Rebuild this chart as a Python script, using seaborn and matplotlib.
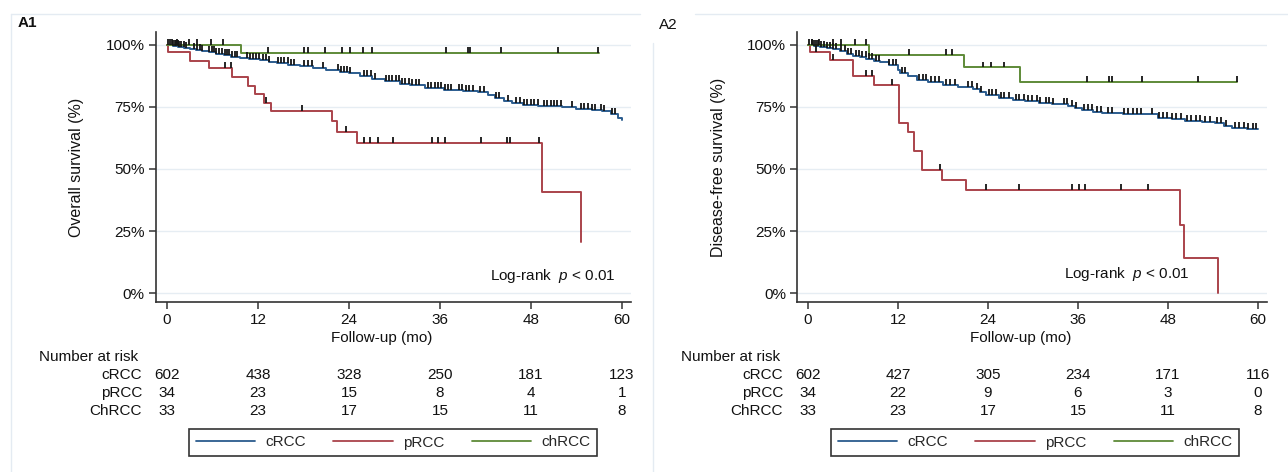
import matplotlib
matplotlib.use("Agg")
import matplotlib.pyplot as plt
import numpy as np
import pandas as pd
import seaborn as sns
from matplotlib.lines import Line2D

# %%
# step points: (months, survival %)
os_crcc_t = [0, 0.8, 1.5, 2.3, 3.0, 3.8, 4.6, 5.5, 6.5, 7.5, 8.5, 9.6, 10.8, 12.3, 13.4, 14.5,
             16.0, 17.5, 19.3, 21.0, 22.8, 24.0, 25.5, 27.0, 28.8, 30.7, 32.0, 34.0, 36.5, 39.0,
             41.0, 42.3, 43.3, 44.5, 45.5, 47.0, 49.0, 52.1, 54.0, 56.0, 57.4, 58.5, 59.5, 60.0]
os_crcc_s = [100, 99.6, 99.0, 98.6, 98.3, 97.8, 97.4, 97.0, 96.4, 95.8, 95.3, 94.8, 94.4, 94.0,
             93.3, 92.6, 92.1, 91.6, 90.8, 90.0, 89.2, 88.6, 87.4, 86.4, 85.3, 84.4, 84.0, 82.6,
             81.9, 81.5, 81.0, 80.0, 78.7, 77.5, 76.5, 75.6, 75.2, 74.9, 74.2, 73.6, 73.3, 72.0,
             70.6, 69.8]
os_prcc_t = [0, 0.2, 3.1, 5.5, 8.6, 10.7, 11.6, 12.8, 13.7, 21.8, 22.4, 25.1, 49.5, 54.6]
os_prcc_s = [100, 97.2, 93.7, 90.6, 87.2, 83.6, 80.1, 76.7, 73.4, 69.4, 65.0, 60.6, 40.6, 20.5]
os_chrcc_t = [0, 9.8, 57.0]
os_chrcc_s = [100, 96.6, 96.6]

dfs_crcc_t = [0, 0.8, 1.6, 2.5, 3.4, 4.3, 5.2, 6.0, 7.0, 7.8, 8.8, 9.6, 10.8, 12.0, 12.3, 13.4,
              14.5, 16.0, 18.0, 20.0, 22.0, 23.0, 23.8, 25.5, 27.3, 29.0, 30.8, 32.5, 34.7, 35.6,
              36.5, 38.0, 39.2, 42.0, 45.3, 46.7, 48.5, 50.3, 52.5, 54.3, 55.5, 56.5, 58.5, 60.0]
dfs_crcc_s = [100, 99.5, 99.0, 98.7, 98.4, 97.6, 96.5, 95.7, 95.0, 94.4, 93.6, 93.0, 92.0, 89.9,
              88.5, 87.3, 85.9, 85.0, 83.9, 83.0, 82.3, 81.0, 79.8, 78.8, 77.8, 77.3, 76.6, 76.1,
              75.5, 74.6, 73.8, 73.1, 72.5, 72.3, 72.0, 70.7, 70.2, 69.4, 69.0, 68.4, 67.5, 66.7,
              66.3, 66.0]
dfs_prcc_t = [0, 0.3, 3.0, 6.0, 8.8, 12.1, 13.3, 14.2, 15.2, 17.9, 21.1, 49.6, 50.2, 54.7]
dfs_prcc_s = [100, 97.1, 94.1, 87.5, 83.9, 68.4, 65.0, 57.1, 49.5, 45.4, 41.4, 27.6, 14.0, 0.0]
dfs_chrcc_t = [0, 8.1, 20.8, 28.3, 57.2]
dfs_chrcc_s = [100, 96.0, 90.9, 85.2, 85.2]

# censoring times (months)
os_crcc_cens = [0.2, 0.4, 0.6, 0.8, 1.0, 1.2, 1.4, 1.6, 1.9, 2.2, 2.5, 3.5, 3.9, 4.3, 4.6, 5.6,
                5.9, 6.2, 6.5, 6.8, 7.3, 7.6, 7.9, 8.2, 8.6, 9.0, 9.3, 10.6, 11.0, 11.4, 11.8,
                12.2, 12.6, 13.0, 13.4, 14.7, 15.1, 15.5, 15.9, 16.3, 16.8, 18.1, 18.6, 19.1,
                20.6, 22.5, 22.9, 23.3, 23.7, 24.1, 26.0, 26.4, 26.9, 27.4, 28.9, 29.3, 29.7,
                30.2, 30.6, 31.0, 31.4, 31.9, 32.3, 32.8, 33.3, 34.4, 34.8, 35.3, 35.8, 36.2,
                36.7, 37.1, 37.5, 38.5, 38.9, 39.4, 39.9, 40.3, 41.3, 41.8, 43.4, 43.8, 45.0,
                46.0, 46.5, 47.1, 47.5, 48.0, 48.4, 48.9, 49.7, 50.1, 50.6, 51.0, 51.5, 52.0,
                53.4, 54.6, 55.0, 55.5, 56.0, 56.4, 57.2, 57.7, 58.7, 59.1]
os_prcc_cens = [7.6, 8.4, 13.1, 17.8, 23.6, 26.0, 26.8, 27.8, 29.8, 35.0, 35.8, 36.7, 41.4,
                44.9, 45.3, 49.1]
os_chrcc_cens = [1.3, 2.9, 3.9, 5.8, 7.4, 13.3, 18.1, 18.6, 20.8, 23.1, 24.1, 25.9, 27.0, 36.8,
                 39.7, 40.0, 44.1, 51.6, 56.8]

dfs_crcc_cens = [0.2, 0.5, 0.8, 1.1, 1.3, 1.7, 2.1, 2.5, 2.9, 3.4, 3.8, 4.4, 4.9, 5.4, 5.8, 6.4,
                 6.8, 7.2, 7.7, 8.1, 8.6, 9.1, 9.5, 10.8, 11.3, 11.8, 12.5, 13.0, 14.8, 15.3,
                 15.8, 16.4, 17.0, 17.5, 18.4, 19.0, 19.6, 21.3, 21.9, 22.5, 23.1, 24.1, 24.6,
                 25.1, 25.7, 26.2, 26.8, 27.7, 28.2, 28.8, 29.4, 29.9, 30.5, 31.0, 31.7, 32.2,
                 32.7, 34.1, 34.6, 35.2, 35.8, 36.8, 37.3, 37.9, 38.5, 39.1, 40.0, 40.5, 42.1,
                 42.7, 43.3, 43.9, 44.4, 45.9, 46.8, 47.3, 47.9, 48.5, 49.1, 49.7, 50.6, 51.1,
                 51.7, 52.3, 52.9, 53.6, 54.6, 55.1, 55.7, 57.0, 57.5, 58.1, 58.6, 59.3, 59.7]
dfs_prcc_cens = [1.1, 3.4, 7.8, 8.6, 11.2, 17.6, 23.8, 28.1, 35.2, 36.2, 37.0, 41.7, 45.3]
dfs_chrcc_cens = [0.5, 1.5, 3.4, 4.4, 6.3, 7.8, 13.5, 18.4, 19.2, 23.4, 24.4, 26.1, 37.2, 40.2,
                  40.5, 44.6, 52.0, 57.2]

# numbers at risk
risk_times = [0, 12, 24, 36, 48, 60]
risk_rows = ["cRCC", "pRCC", "ChRCC"]
os_risk_crcc = [602, 438, 328, 250, 181, 123]
os_risk_prcc = [34, 23, 15, 8, 4, 1]
os_risk_chrcc = [33, 23, 17, 15, 11, 8]
dfs_risk_crcc = [602, 427, 305, 234, 171, 116]
dfs_risk_prcc = [34, 22, 9, 6, 3, 0]
dfs_risk_chrcc = [33, 23, 17, 15, 11, 8]

groups = ["cRCC", "pRCC", "chRCC"]
palette = {"cRCC": "#2b5c8e", "pRCC": "#aa434b", "chRCC": "#5e8a38"}

# %%
sns.set_theme(style="white")
plt.rcParams["font.family"] = ["Liberation Sans", "DejaVu Sans"]
plt.rcParams["mathtext.fontset"] = "custom"
plt.rcParams["mathtext.it"] = "Liberation Sans:italic"
plt.rcParams["mathtext.rm"] = "Liberation Sans"

fig = plt.figure(figsize=(12.88, 4.72), dpi=100)
fig.patch.set_facecolor("white")

# faint panel borders
border = "#e4ebf2"
fig.add_artist(Line2D([11 / 1288, 11 / 1288], [0, 1 - 14 / 472], color=border, lw=1))
fig.add_artist(Line2D([11 / 1288, 640 / 1288], [1 - 14 / 472] * 2, color=border, lw=1))
fig.add_artist(Line2D([653 / 1288, 653 / 1288], [0, 1 - 43 / 472], color=border, lw=1))
fig.add_artist(Line2D([695 / 1288, 1], [1 - 14 / 472] * 2, color=border, lw=1))

panels = [
    dict(rect=[0.1211, 0.3602, 0.3688, 0.5720], ylabel="Overall survival (%)", tag="A1",
         tag_xy=(18 / 1288, 1 - 23 / 472), tag_w="bold",
         curves=[(os_crcc_t, os_crcc_s, os_crcc_cens), (os_prcc_t, os_prcc_s, os_prcc_cens),
                 (os_chrcc_t, os_chrcc_s, os_chrcc_cens)],
         risk=[os_risk_crcc, os_risk_prcc, os_risk_chrcc],
         logrank_xy=(59.1, 6.9), legend_x=393 / 1288, xlab_x=0.475),
    dict(rect=[0.6188, 0.3602, 0.3649, 0.5720], ylabel="Disease-free survival (%)", tag="A2",
         tag_xy=(659 / 1288, 1 - 25 / 472), tag_w="normal",
         curves=[(dfs_crcc_t, dfs_crcc_s, dfs_crcc_cens), (dfs_prcc_t, dfs_prcc_s, dfs_prcc_cens),
                 (dfs_chrcc_t, dfs_chrcc_s, dfs_chrcc_cens)],
         risk=[dfs_risk_crcc, dfs_risk_prcc, dfs_risk_chrcc],
         logrank_xy=(50.8, 7.7), legend_x=1035 / 1288, xlab_x=0.475),
]

fs = 11
for p in panels:
    ax = fig.add_axes(p["rect"])
    ax.set_facecolor("white")

    frames = []
    for g, (t, s, _) in zip(groups, p["curves"]):
        frames.append(pd.DataFrame({"time": t, "surv": s, "group": g}))
    df = pd.concat(frames, ignore_index=True)

    ax.yaxis.grid(True, color="#e6edf3", lw=1)
    ax.set_axisbelow(True)
    sns.lineplot(data=df, x="time", y="surv", hue="group", palette=palette,
                 estimator=None, sort=False, drawstyle="steps-post", lw=1.4,
                 legend=False, ax=ax, zorder=3)

    # censoring ticks
    for g, (t, s, cens) in zip(groups, p["curves"]):
        t = np.asarray(t)
        s = np.asarray(s)
        idx = np.searchsorted(t, cens, side="right") - 1
        yv = s[idx]
        ax.vlines(cens, yv, yv + 2.4, color="#151515", lw=1.3, zorder=4)

    ax.set_xlim(-1.45, 61.2)
    ax.set_ylim(-3.6, 105.2)
    ax.set_xticks(risk_times)
    ax.set_yticks([0, 25, 50, 75, 100])
    ax.set_yticklabels(["0%", "25%", "50%", "75%", "100%"])
    sns.despine(ax=ax)
    for side in ["left", "bottom"]:
        ax.spines[side].set_color("#333333")
        ax.spines[side].set_linewidth(1.2)
    ax.tick_params(axis="both", direction="out", length=5, width=1.1, color="#333333",
                   labelsize=fs, labelcolor="#111111", pad=3, left=True, bottom=True)
    ax.set_xlabel("")
    ax.set_ylabel(p["ylabel"], fontsize=11.5, color="#111111")
    ax.yaxis.set_label_coords(-0.152, 0.5)

    ax.text(p["xlab_x"], -0.133, "Follow-up (mo)", transform=ax.transAxes, ha="center",
            va="center", fontsize=fs, color="#111111")

    ax.text(p["logrank_xy"][0], p["logrank_xy"][1], "Log-rank  $\\mathit{p}$ < 0.01",
            ha="right", va="center", fontsize=fs, color="#111111")

    fig.text(p["tag_xy"][0], p["tag_xy"][1], p["tag"], ha="left", va="center",
             fontsize=fs, fontweight=p["tag_w"], color="#111111")

    # number-at-risk table
    xt = ax.get_xaxis_transform()
    ax.text(-16.9, -0.204, "Number at risk", transform=xt, ha="left", va="center",
            fontsize=fs, color="#111111", clip_on=False)
    row_y = [-0.270, -0.337, -0.404]
    for name, vals, yy in zip(risk_rows, p["risk"], row_y):
        ax.text(-3.3, yy, name, transform=xt, ha="right", va="center", fontsize=fs,
                color="#111111", clip_on=False)
        for tt, v in zip(risk_times, vals):
            ax.text(tt, yy, str(v), transform=xt, ha="center", va="center", fontsize=fs,
                    color="#111111", clip_on=False)

    handles = [Line2D([0], [0], color=palette[g], lw=1.3) for g in groups]
    leg = ax.legend(handles, groups, loc="center", bbox_to_anchor=(p["legend_x"], 1 - 442.5 / 472),
                    bbox_transform=fig.transFigure, ncol=3, frameon=True, fancybox=False,
                    edgecolor="#333333", framealpha=1, fontsize=fs, handlelength=3.9,
                    handletextpad=0.65, columnspacing=1.8, borderpad=0.45)
    leg.get_frame().set_linewidth(1.2)

fig.savefig("out.png", dpi=100, facecolor="white")
